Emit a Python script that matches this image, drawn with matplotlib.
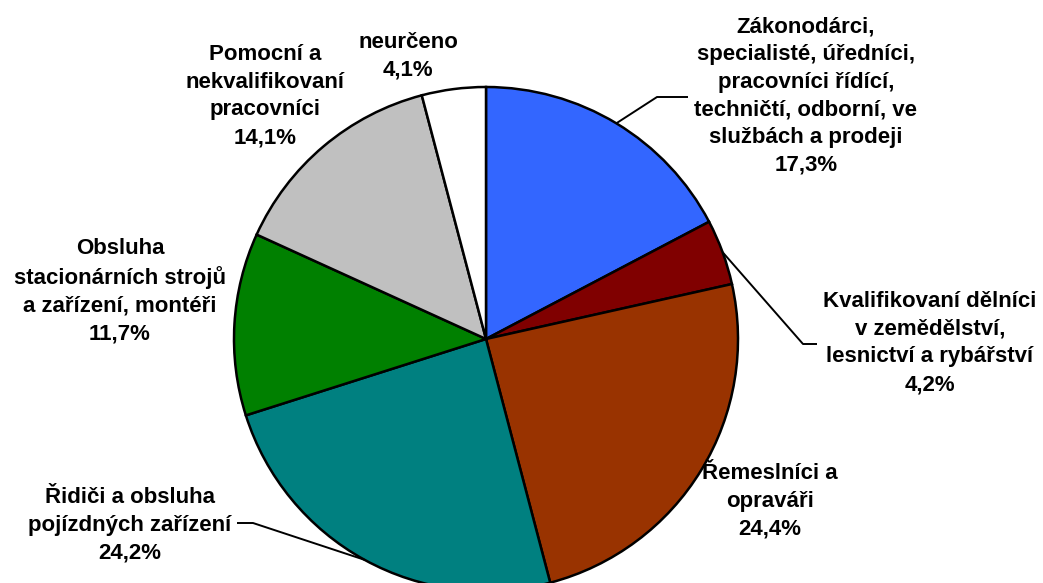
import numpy as np
import matplotlib.pyplot as plt

plt.rcParams['font.family'] = ['Liberation Sans', 'DejaVu Sans']

labels = [
    "Zákonodárci,\nspecialisté, úředníci,\npracovníci řídící,\ntechničtí, odborní, ve\nslužbách a prodeji",
    "Kvalifikovaní dělníci\nv zemědělství,\nlesnictví a rybářství",
    "Řemeslníci a\nopraváři",
    "Řidiči a obsluha\npojízdných zařízení",
    "Obsluha\nstacionárních strojů\na zařízení, montéři",
    "Pomocní a\nnekvalifikovaní\npracovníci",
    "neurčeno",
]
shares = [17.3, 4.2, 24.4, 24.2, 11.7, 14.1, 4.1]
colors = ["#3366FF", "#800000", "#993300", "#008080", "#008000", "#C0C0C0", "#FFFFFF"]

W, H = 1043, 583
fig = plt.figure(figsize=(W / 100, H / 100), dpi=100)
ax = fig.add_axes([0, 0, 1, 1])
ax.axis("off")

cx, cy, R = 486, H - 339, 252
wedges, _ = ax.pie(shares, colors=colors, startangle=90, counterclock=False,
                   center=(cx, cy), radius=R,
                   wedgeprops=dict(edgecolor="black", linewidth=1.8))
ax.set_xlim(0, W)
ax.set_ylim(0, H)
ax.set_aspect("equal")

# label centres in pixel coords (x, y from top), optional leader elbow/end
label_pos = [(806, 96), (930, 343), (770, 501), (130, 525), (120, 291), (265, 96), (408, 56)]
leaders = {0: [(657, 97), (688, 97)], 1: [(803, 344), (817, 344)], 3: [(253, 523), (237, 523)]}

for i, w in enumerate(wedges):
    txt = labels[i] + "\n" + f"{shares[i]:.1f}%".replace(".", ",")
    x, y = label_pos[i]
    ax.text(x, H - y, txt, ha="center", va="center", fontsize=16,
            fontweight="bold", linespacing=1.42)
    if i in leaders:
        mid = np.deg2rad((w.theta1 + w.theta2) / 2)
        pts = [(cx + R * np.cos(mid), cy + R * np.sin(mid))]
        pts += [(px, H - py) for px, py in leaders[i]]
        xs, ys = zip(*pts)
        ax.plot(xs, ys, color="black", linewidth=1.4, solid_capstyle="butt")

fig.savefig("out.png", dpi=100)
